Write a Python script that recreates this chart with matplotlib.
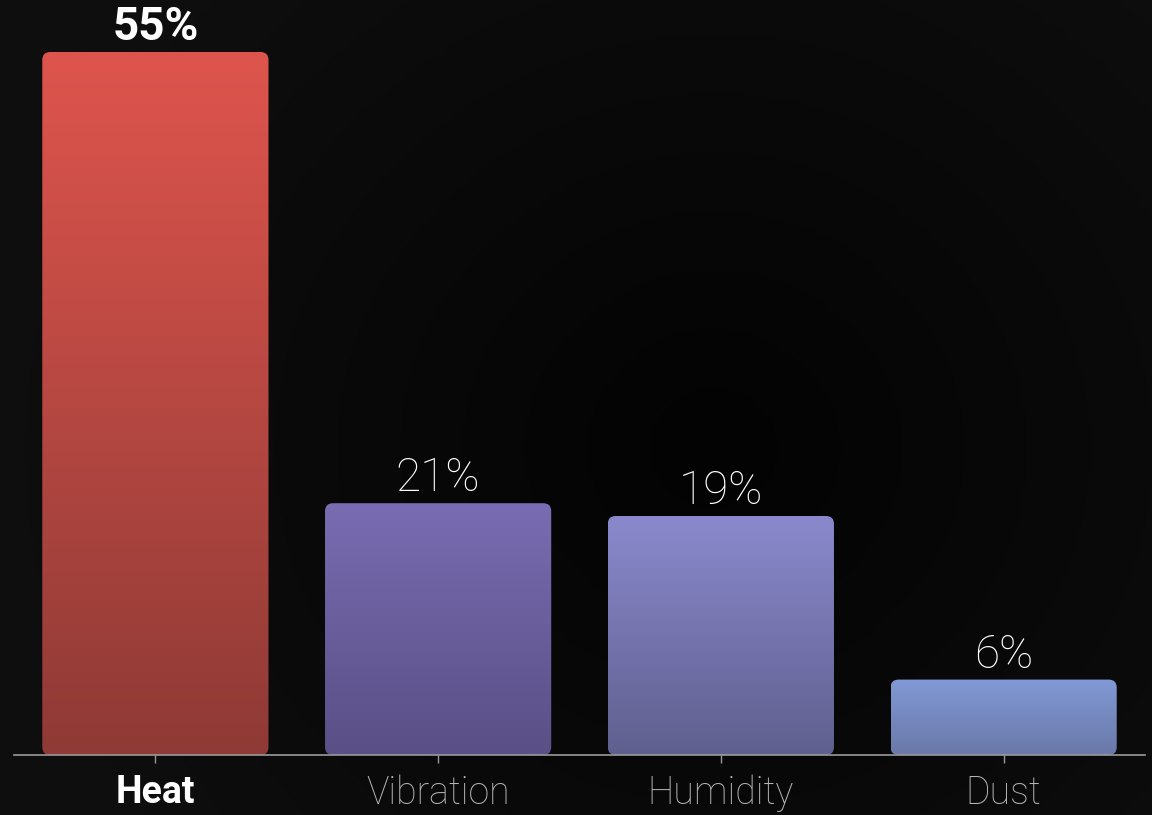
import matplotlib
matplotlib.use("Agg")
from matplotlib import pyplot as plt
from matplotlib.patches import FancyBboxPatch
from matplotlib.colors import LinearSegmentedColormap
import numpy as np

# Datos
categorias = ["Heat", "Vibration", "Humidity", "Dust"]
valores = [55, 19.7, 18.7, 5.9]
etiquetas = ["55%", "21%", "19%", "6%"]
color_arriba = ["#de554d", "#7a6cb2", "#8a89cd", "#8199d6"]
color_abajo = ["#8f3a36", "#5a4f86", "#60608f", "#6a78a8"]

fondo = "#0a0a0a"
plt.rcParams['font.family'] = ['Roboto', 'DejaVu Sans']

fig = plt.figure(figsize=(11.52, 8.15), dpi=100)
fig.patch.set_facecolor(fondo)

# fondo con un leve degradado radial
bg = fig.add_axes([0, 0, 1, 1])
yy, xx = np.mgrid[0:1:300j, 0:1:400j]
r = np.sqrt((xx - 0.62) ** 2 + ((yy - 0.55) * 0.75) ** 2)
bg.imshow(np.clip(r, 0, 0.6), cmap=LinearSegmentedColormap.from_list("bg", ["#030303", "#0e0e0e"]),
          extent=[0, 1, 0, 1], aspect="auto", vmin=0, vmax=0.6)
bg.axis("off")

x0, x1 = 14 / 1152, 1145 / 1152
y0, y1 = 60 / 815, (815 - 30) / 815
ymax = 55 * (755 - 30) / 703
ax = fig.add_axes([x0, y0, x1 - x0, y1 - y0])
ax.set_facecolor("none")
ax.set_xlim(-0.5, 3.5)
ax.set_ylim(0, ymax)

x = np.arange(len(categorias))
barras = ax.bar(x, valores, width=0.8, color="none")

fig.canvas.draw()
inv = ax.transData.inverted()
p0 = inv.transform((0, 0))
p1 = inv.transform((1, 1))
px_x = p1[0] - p0[0]
px_y = p1[1] - p0[1]
radio = 8 * px_x
aspecto = px_y / px_x

for i, b in enumerate(barras):
    bx, by = b.get_x(), b.get_y()
    bw, bh = b.get_width(), b.get_height()
    caja = FancyBboxPatch((bx, by), bw, bh,
                          boxstyle="round,pad=0,rounding_size=%f" % radio,
                          mutation_aspect=aspecto, facecolor="none", edgecolor="none")
    ax.add_patch(caja)
    cmap = LinearSegmentedColormap.from_list("g%d" % i, [color_abajo[i], color_arriba[i]])
    grad = np.linspace(0, 1, 256).reshape(-1, 1)
    im = ax.imshow(grad, cmap=cmap, origin="lower", aspect="auto",
                   extent=[bx, bx + bw, by, by + bh], zorder=2)
    im.set_clip_path(caja)
    peso = "bold" if i == 0 else "light"
    ax.annotate(etiquetas[i], (bx + bw / 2, bh), xytext=(0, 2), textcoords="offset points",
                ha="center", va="bottom", color="white", fontsize=33, fontweight=peso,
                zorder=3, annotation_clip=False)

ax.set_xlim(-0.5, 3.5)
ax.set_ylim(0, ymax)
ax.set_xticks(x)
ax.set_xticklabels(categorias, fontsize=27)
ax.tick_params(axis="x", colors="#9a9a9a", length=6, width=1, pad=8)
for i, t in enumerate(ax.get_xticklabels()):
    if i == 0:
        t.set_color("white")
        t.set_fontweight("bold")
    else:
        t.set_color("#b5b5b5")
        t.set_fontweight("light")
ax.set_yticks([])
for s in ["top", "right", "left"]:
    ax.spines[s].set_visible(False)
ax.spines["bottom"].set_color("#9a9a9a")
ax.spines["bottom"].set_linewidth(1.2)

fig.savefig("out.png", dpi=100, facecolor=fondo)
